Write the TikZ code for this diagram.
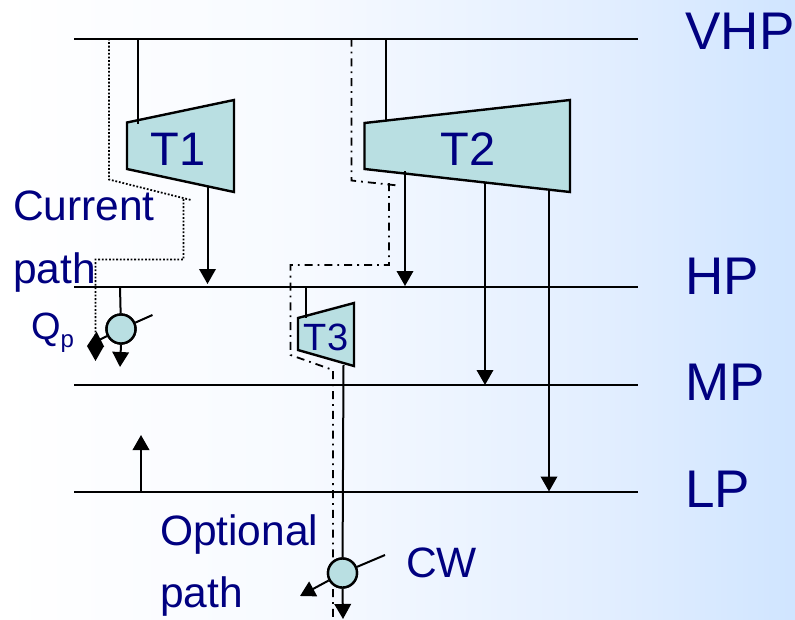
\documentclass[tikz,border=0pt]{standalone}
\usepackage{fontspec}
\setmainfont{Liberation Sans}
\usetikzlibrary{arrows.meta}
\definecolor{txtblue}{HTML}{000080}
\definecolor{fillteal}{HTML}{B9DFE2}
\definecolor{bgA}{HTML}{FFFFFF}
\definecolor{bgB}{HTML}{F7FAFF}
\definecolor{bgC}{HTML}{E2EEFF}
\definecolor{bgD}{HTML}{D0E5FF}
% TikZ maps the picture's width onto the 25bp..75bp band of a shading
\pgfdeclarehorizontalshading{bgfinal}{100bp}{color(0bp)=(bgA); color(25bp)=(bgA); color(44bp)=(bgB); color(63bp)=(bgC); color(75bp)=(bgD); color(100bp)=(bgD)}
\tikzset{
  x=1pt,y=-1pt,
  bus/.style={line width=2pt,black},
  pipe/.style={line width=2pt,black},
  flow/.style={line width=2pt,black,-{Triangle[length=15pt,width=16.5pt]}},
  turb/.style={line width=2.4pt,draw=black,fill=fillteal,line join=miter},
  valve/.style={circle,draw=black,fill=fillteal,line width=2.4pt,minimum size=29pt,inner sep=0pt},
  curpath/.style={line width=1.8pt,black,dash pattern=on 1.8pt off 1.8pt},
  optpath/.style={line width=1.8pt,black,dash pattern=on 8pt off 5pt on 1.8pt off 5pt},
  lab/.style={text=txtblue,anchor=base west,inner sep=0pt,outer sep=0pt},
  biglab/.style={lab,font=\fontsize{53}{53}\selectfont},
  midlab/.style={lab,font=\fontsize{42.5}{42.5}\selectfont},
  tlab/.style={text=txtblue,anchor=base,inner sep=0pt,outer sep=0pt},
}
\begin{document}
\begin{tikzpicture}
\useasboundingbox (0,0) rectangle (795,619);
\shade[shading=bgfinal] (0,0) rectangle (795,619);
% bus end points
\coordinate (vhpL) at (74,38.5);  \coordinate (vhpR) at (638,38.5);
\coordinate (hpL) at (74,286.5);  \coordinate (hpR) at (638,286.5);
\coordinate (mpL) at (74,385);    \coordinate (mpR) at (638,385);
\coordinate (lpL) at (74,491.5);  \coordinate (lpR) at (638,491.5);
\draw[bus] (vhpL) -- (vhpR);
\draw[bus] (hpL) -- (hpR);
\draw[bus] (mpL) -- (mpR);
\draw[bus] (lpL) -- (lpR);
% junctions
\coordinate (t1in) at (138,38.5);   \coordinate (t1inE) at (138,124);
\coordinate (t1out) at (207.5,187); \coordinate (t1outE) at (207.5,284);
\coordinate (t2in) at (386,38.5);   \coordinate (t2inE) at (386,121);
\coordinate (t2o1) at (405,171);    \coordinate (t2o1E) at (405,286);
\coordinate (t2o2) at (485,182);    \coordinate (t2o2E) at (485,385);
\coordinate (t2o3) at (549,189);    \coordinate (t2o3E) at (549,491.5);
\coordinate (t3in) at (306,286.5);  \coordinate (t3inE) at (306,318);
\coordinate (t3out) at (343.5,365); \coordinate (riseA) at (141,491.5);
\coordinate (riseB) at (141,435);
% dotted and dash-dot paths
\draw[curpath] (109,38.5) -- (109,179.5) -- (191,200) (183.5,199) -- (183.5,259.5) -- (95.5,259.5) -- (95.5,340);
\draw[optpath] (351.5,38.5) -- (351.5,180.5) -- (398,185.5) (389,183) -- (389,265) -- (290.5,265) -- (290.5,355) -- (333,370) -- (333,619);
% turbines
\draw[turb] (127,122.5) -- (234,100) -- (234,192) -- (127,169) -- cycle;
\draw[turb] (364.5,123) -- (570,100) -- (570,192) -- (364.5,169) -- cycle;
\draw[turb] (298,318) -- (354,303) -- (354,366) -- (298,350) -- cycle;
\draw[pipe] (t1in) -- (t1inE);
\draw[flow] (t1out) -- (t1outE);
\draw[pipe] (t2in) -- (t2inE);
\draw[flow] (t2o1) -- (t2o1E);
\draw[flow] (t2o2) -- (t2o2E);
\draw[flow] (t2o3) -- (t2o3E);
\draw[pipe] (t3in) -- (t3inE);
\draw[flow] (riseA) -- (riseB);
% valves
\node[valve] (qv) at (121,329) {};
\node[valve] (cv) at (342.5,573) {};
\coordinate (qvA) at (120,286.5);
\coordinate (qvD) at (120,367);
\coordinate (qvSW) at (87,346);
\coordinate (qvNE) at (152.5,315);
\coordinate (cvD) at (343,619);
\coordinate (cvSW) at (300,596);
\coordinate (cvNE) at (385,555);
\coordinate (curEnd) at (95.5,361);
\coordinate (curStart) at (95.5,338);
\draw[pipe] (qvA) -- (qv);
\draw[flow] (qv.south) -- (qvD);
\draw[flow] (qv) -- (qvSW);
\draw[pipe] (qv) -- (qvNE);
\draw[flow] (curStart) -- (curEnd);
\draw[pipe] (t3out) -- (cv);
\draw[flow] (cv.south) -- (cvD);
\draw[flow] (cv) -- (cvSW);
\draw[pipe] (cv) -- (cvNE);
\node[valve] at (qv) {};
\node[valve] at (cv) {};
% labels
\node[tlab,font=\fontsize{47}{47}\selectfont] (t1) at (178,165.5) {T1};
\node[tlab,font=\fontsize{47}{47}\selectfont] (t2) at (468,165.5) {T2};
\node[tlab,font=\fontsize{38}{38}\selectfont] (t3) at (326,350) {T3};
\node[biglab] (vhp) at (685.5,49) {VHP};
\node[biglab] (hp) at (685.5,294) {HP};
\node[biglab] (mp) at (685.5,400) {MP};
\node[biglab] (lp) at (685.5,507) {LP};
\node[midlab] (cur) at (13,220) {Current};
\node[midlab] (pth) at (13,283) {path};
\node[midlab] (opt) at (160,545) {Optional};
\node[midlab] (pth2) at (160,607) {path};
\node[lab,font=\fontsize{38}{38}\selectfont] (qp) at (31,339) {Q\raisebox{-8pt}{\fontsize{24}{24}\selectfont p}};
\node[lab,font=\fontsize{42.5}{42.5}\selectfont] (cw) at (406,577) {CW};
\end{tikzpicture}
\end{document}
